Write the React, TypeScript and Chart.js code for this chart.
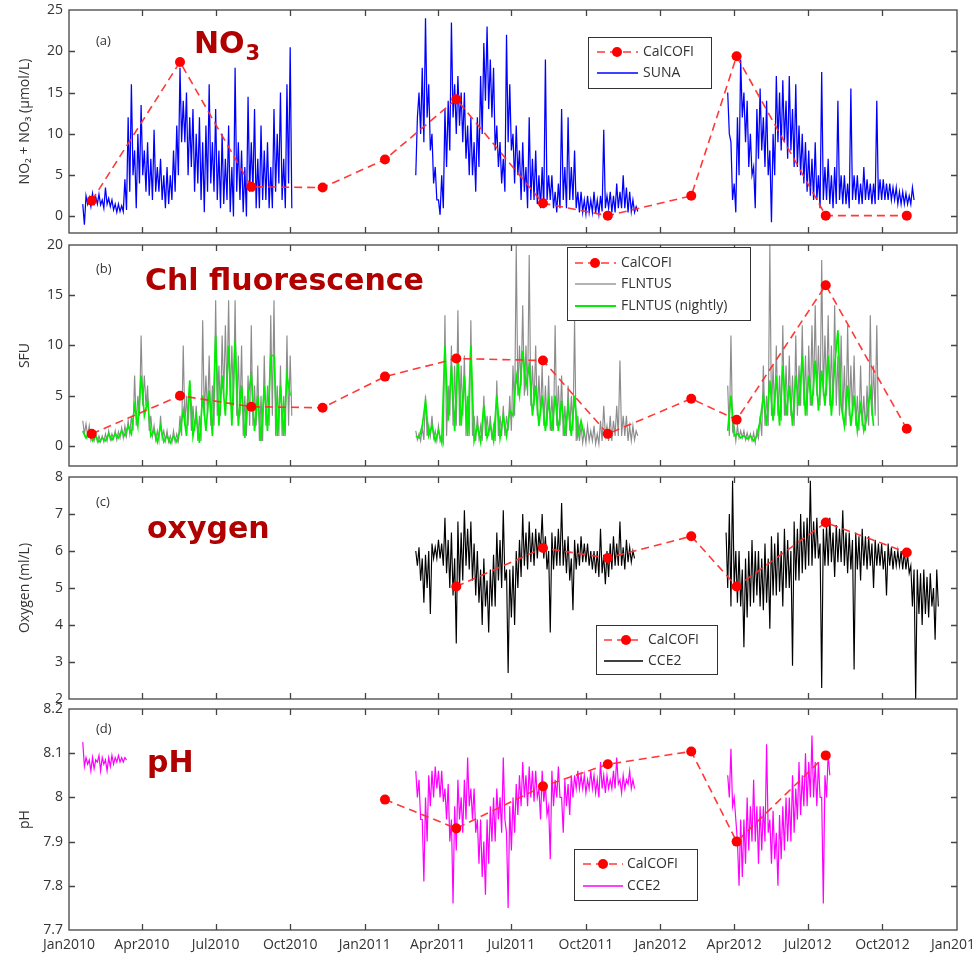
import React, { useEffect, useRef } from 'react';
import { Chart, registerables } from 'chart.js';
Chart.register(...registerables);

// ---------------- DATA ----------------
const DAY0 = Date.UTC(2010, 0, 1);
const dayOf = (iso: string) => (Date.parse(iso) - DAY0) / 86400000;
// dense sensor traces: alternating local max / local min read every 2 days
const DENSE_STEP_DAYS = 2;
// nightly fluorescence: one reading every 4 days
const NIGHTLY_STEP_DAYS = 4;

const X_TICK_DATES = ['2010-01-01', '2010-04-01', '2010-07-01', '2010-10-01', '2011-01-01', '2011-04-01', '2011-07-01', '2011-10-01', '2012-01-01', '2012-04-01', '2012-07-01', '2012-10-01', '2013-01-01'];
const X_TICK_LABELS = ['Jan2010', 'Apr2010', 'Jul2010', 'Oct2010', 'Jan2011', 'Apr2011', 'Jul2011', 'Oct2011', 'Jan2012', 'Apr2012', 'Jul2012', 'Oct2012', 'Jan2013'];

const CALCOFI_DATES = ['2010-01-29', '2010-05-18', '2010-08-14', '2010-11-10', '2011-01-26', '2011-04-24', '2011-08-09', '2011-10-28', '2012-02-08', '2012-04-04', '2012-07-23', '2012-10-31'];
const CALCOFI_NO3 = [1.9, 18.7, 3.6, 3.5, 6.9, 14.2, 1.6, 0.1, 2.5, 19.4, 0.1, 0.1];
const CALCOFI_CHL = [1.2, 5.0, 3.9, 3.8, 6.9, 8.7, 8.5, 1.2, 4.7, 2.6, 16.0, 1.7];
const CALCOFI_OXY_DATES = ['2011-04-24', '2011-08-09', '2011-10-28', '2012-02-08', '2012-04-04', '2012-07-23', '2012-10-31'];
const CALCOFI_OXY = [5.04, 6.08, 5.81, 6.4, 5.04, 6.77, 5.96];
const CALCOFI_PH_DATES = ['2011-01-26', '2011-04-24', '2011-08-09', '2011-10-28', '2012-02-08', '2012-04-04', '2012-07-23'];
const CALCOFI_PH = [7.995, 7.93, 8.025, 8.075, 8.104, 7.9, 8.095];

// SUNA nitrate
const SUNA_2010_START = '2010-01-18';
const SUNA_2010 = [1.5, -1, 2.5, 1.5, 2.3, 1.2, 2.8, 1.6, 2.4, 1.5, 2.7, 1.4, 2.0, 1.0, 3.5, 1.5, 2.2, 1.2, 2.0, 0.8, 1.5, 0.5, 1.5, 0.6, 1.3, 0.6, 4.5, 0.8, 12, 3, 16, 5, 8, 1, 10, 4, 13.5, 5, 8, 3, 9, 2.5, 7, 2, 10.5, 3, 6, 3, 7, 2, 5, 1, 6, 1.5, 5, 2, 8, 3, 11, 5, 18, 9, 14, 9, 15, 5, 12, 6, 13, 3, 10, 4, 12, 2, 9, 0.5, 11, 3, 16, 4, 9, 3, 13, 2, 8, 1, 10, 1.5, 7, 2, 11, 0.5, 6, 0, 18, 3, 9, 2, 8, 0.5, 6, 0, 14.5, 3, 9, 3, 13, 1, 7, 1, 11, 2, 8, 2, 9, 1, 6, 1, 13, 3, 10, 4, 15, 2, 7, 1, 16, 4, 20.5, 1];
const SUNA_2011_START = '2011-03-05';
const SUNA_2011 = [5, 12, 15, 10, 18, 9, 24, 12, 16, 8, 10, 4, 6, 2, 2, 0.2, 5, 1, 13, 6, 14, 8, 23.5, 12, 16, 10, 17, 11, 15, 9, 15, 7, 11, 5, 12, 5, 9, 3, 12, 6, 17, 10, 21, 14, 23, 13, 19, 12, 18, 8, 11, 6, 9, 4, 7, 3, 22, 9, 16, 8, 10, 4, 11, 5, 8, 2, 9, 3, 6, 1, 12, 2, 7, 2, 8, 1.5, 5, 1, 6, 1, 19, 2, 5, 2, 5, 1, 3, 0.5, 4, 1, 13, 2, 6, 1, 12, 2, 6, 2, 8, 1, 3, 0.5, 3, 0.5, 2, 0.3, 2.5, 0.5, 2, 0.5, 3, 0.4, 2, 0.3, 2.5, 0.6, 10.5, 1, 2.5, 1, 3, 0.5, 2.5, 0.5, 4, 1, 3, 1, 5, 1, 3.5, 0.5, 3, 0.6, 2, 0.5, 1.2, 0.6];
const SUNA_2012_START = '2012-03-24';
const SUNA_2012 = [15, 10, 9, 2, 4, 0.5, 12, 5, 19, 12, 15, 9, 14, 6, 10, 5, 6, 1, 13, 7, 15.5, 8, 12, 6, 14, 5, 8, -0.7, 10, 5, 17, 9, 15, 8, 16.5, 9, 14, 7, 17, 8, 13, 6, 16, 6, 11, 5, 10, 4, 9, 3, 8, 2.5, 7, 2, 9, 2, 5, 1, 17.5, 2, 6, 2, 7, 1.5, 5, 1, 6, 1.5, 14, 2, 5, 1.5, 5, 1.5, 4, 1, 15.5, 2, 5, 2, 5, 1.5, 4, 1.5, 6, 2, 4.5, 2, 4, 1.5, 4, 1.5, 14, 2, 4.5, 2, 4.5, 2, 4, 2, 4, 2, 3.5, 2, 3.5, 1.5, 3, 1.5, 3, 1.5, 2.8, 1.5, 2.5, 1.5, 3.5, 2];

// FLNTUS chlorophyll fluorescence (all readings)
const FLNTUS_2010_START = '2010-01-18';
const FLNTUS_2010 = [2.5, 1.2, 2.2, 1, 2, 0.6, 1.2, 0.5, 1.2, 0.4, 1, 0.4, 1, 0.4, 1.2, 0.5, 1.5, 0.6, 1.2, 0.7, 1.5, 0.6, 1.4, 0.8, 1.8, 0.8, 2, 1, 2.5, 1.2, 3, 1.5, 7, 2, 5, 3, 11, 4, 7, 4, 6, 1.5, 3, 1, 2, 0.6, 1.5, 0.5, 3, 0.8, 1.5, 0.5, 1.5, 0.4, 1, 0.3, 1.5, 0.4, 1.2, 0.5, 3, 1, 10, 2, 5, 2, 6.5, 1.5, 4, 1.5, 4, 0.5, 3, 0.5, 12.5, 3, 7, 3, 9, 2, 6, 2, 14.5, 3, 8, 3, 11, 5, 12, 5, 14.5, 4, 10, 4, 14.5, 3, 9, 3, 10, 1, 5, 1, 7, 2, 12, 2, 6, 2, 8, 0.5, 5, 0.5, 9, 2, 6, 2, 13, 3, 14.5, 1, 6, 1, 8, 1, 5, 1, 11, 2, 9, 3];
const FLNTUS_2011_START = '2011-03-05';
const FLNTUS_2011 = [1.5, 0.6, 1.2, 0.5, 1.8, 0.6, 5, 1, 2, 1, 3, 0.8, 1.5, 0.5, 2, 0.5, 1, 0.3, 13, 1, 6, 3, 10, 2, 8, 2, 13.5, 2, 8, 3, 9, 1, 5, 1, 12.5, 1, 3, 0.5, 3, 0.8, 2, 0.5, 5, 1, 3, 1, 3, 0.6, 2, 0.5, 6.5, 1, 3, 1, 4, 1, 3, 1.5, 5, 1.5, 8, 3, 20, 5, 10, 6, 14, 5, 10, 5, 19, 4, 8, 4, 10, 3, 7, 3, 8, 2, 6, 2, 7, 1.5, 5, 1.5, 12, 2, 6, 2, 7, 1, 4, 1, 6, 1.5, 5, 1.5, 12.5, 0.5, 3, 0.5, 2, 0.3, 1.5, 0.3, 2, 0.5, 1.5, 0.5, 2, 0.2, 1.2, 0.2, 2.5, 0.5, 4, 1, 2, 0.5, 3, 0.5, 2.5, 1, 4, 1, 8.5, 1, 3, 1, 3, 0.5, 2, 0.5, 2, 0.6, 1.5, 1];
const FLNTUS_2012_START = '2012-03-24';
const FLNTUS_2012 = [6, 1, 11, 1.5, 2, 0.5, 2, 0.8, 1.5, 0.8, 1.5, 0.6, 1.3, 0.6, 1.2, 0.5, 1.3, 0.3, 1.5, 0.8, 3, 1, 8, 2, 5, 2, 20, 3, 8, 3, 10, 3, 7, 2.5, 12, 3, 8, 3, 9, 3, 7, 2, 11, 3, 8, 4, 12, 4, 9, 3, 10, 4, 12, 5, 14, 5, 10, 4, 18.5, 5, 11, 5, 13, 4, 10, 4, 14, 4, 9, 3, 11, 3, 8, 2, 12, 3, 8, 3, 9, 2, 5, 1.5, 8, 2, 5, 1.5, 6, 2, 13, 3, 8, 3, 12, 2];

// FLNTUS nightly
const NIGHTLY_2010 = [1.5, 0.8, 1.5, 0.5, 1, 0.4, 0.8, 0.5, 1.2, 0.6, 1.2, 0.8, 1.5, 1, 2, 1.2, 4, 2, 7, 3, 4.5, 1, 1.5, 0.4, 2, 0.4, 1, 0.3, 1, 0.4, 1.5, 3.5, 1, 6.5, 1, 3, 0.3, 5, 1.5, 5.5, 1, 11, 2, 7, 3, 10, 2, 10.5, 2, 6, 0.8, 5, 7, 1.5, 5, 0.5, 6, 1.5, 9, 9, 1, 6, 1, 7, 5];
const NIGHTLY_2011 = [1, 0.8, 2, 4.5, 1, 2, 0.5, 1.5, 0.3, 10, 2.5, 8, 1.5, 9, 2, 7, 1, 10, 0.5, 2, 0.4, 4, 0.8, 2, 0.5, 5, 0.8, 3, 1, 3.5, 3, 7, 5, 9.5, 6, 8, 3, 6, 2, 5, 1.5, 4.5, 1.5, 5, 1.5, 4.5, 1, 4, 1, 5, 1, 2.5, 1];
const NIGHTLY_2012 = [1.5, 5, 1, 1.2, 0.8, 1, 0.7, 1, 0.5, 1, 2.5, 5, 2, 6.5, 2.5, 7, 2, 8, 3, 6, 2, 7, 4, 9, 3, 7, 4, 8.5, 3.5, 7.5, 4, 9, 3, 8, 11.5, 4, 2, 6, 2, 5, 1.5, 4, 1.5, 3, 5.5, 2];

// CCE2 oxygen
const OXY_2011_START = '2011-03-05';
const OXY_2011 = [6.0, 5.6, 6.1, 5.2, 5.8, 4.6, 5.9, 5.0, 6.0, 4.3, 6.2, 5.8, 6.1, 5.8, 6.3, 5.8, 6.2, 5.6, 6.9, 5.4, 6.3, 5.0, 6.5, 4.8, 5.8, 3.5, 6.8, 5.0, 6.5, 5.2, 7.1, 5.6, 6.6, 5.5, 6.8, 5.2, 6.2, 4.8, 6.0, 4.6, 5.5, 4.0, 5.8, 4.5, 5.2, 3.8, 5.5, 4.5, 5.9, 4.5, 6.5, 5.2, 6.3, 5.0, 7.1, 5.2, 5.5, 2.7, 5.5, 4.2, 5.6, 4.0, 6.0, 5.0, 6.3, 5.3, 7.0, 5.6, 6.5, 5.5, 6.8, 5.7, 6.5, 5.6, 6.6, 5.8, 6.5, 6.0, 7.0, 5.8, 6.4, 5.5, 6.0, 3.8, 6.5, 5.5, 6.4, 5.6, 6.6, 5.6, 7.3, 5.6, 6.3, 5.4, 6.4, 5.2, 5.8, 4.4, 6.3, 5.5, 6.2, 5.6, 6.4, 5.7, 6.2, 5.7, 6.2, 5.6, 6.0, 5.5, 6.0, 5.4, 6.0, 5.3, 6.6, 5.4, 5.9, 5.1, 6.0, 5.3, 6.2, 5.5, 6.4, 5.6, 6.2, 5.6, 6.8, 5.6, 6.1, 5.5, 6.3, 5.7, 6.1, 5.7, 6.0, 5.8];
const OXY_2012_START = '2012-03-22';
const OXY_2012 = [6.5, 5.0, 7.0, 4.5, 7.9, 5.0, 6.0, 4.6, 6.0, 4.5, 5.5, 3.4, 5.8, 4.2, 6.0, 4.5, 6.3, 4.6, 6.0, 4.8, 6.0, 4.5, 5.8, 4.4, 6.2, 4.6, 5.8, 3.9, 6.4, 4.8, 6.2, 4.8, 6.5, 4.9, 6.0, 4.5, 6.6, 5.0, 6.3, 5.0, 6.0, 2.9, 6.8, 5.2, 6.6, 5.2, 7.0, 5.4, 6.8, 5.5, 6.9, 5.6, 7.9, 5.6, 6.8, 5.8, 6.9, 5.8, 6.2, 2.3, 6.6, 5.6, 6.7, 5.6, 6.9, 5.7, 6.5, 5.3, 6.7, 5.7, 6.6, 5.7, 7.1, 5.6, 6.5, 5.4, 6.5, 5.5, 6.3, 2.8, 6.5, 5.5, 6.4, 5.2, 6.6, 5.6, 6.4, 5.5, 6.4, 5.6, 6.2, 5.0, 6.3, 5.6, 6.2, 5.6, 6.2, 5.5, 6.0, 4.8, 6.2, 5.6, 6.1, 5.5, 6.0, 5.6, 6.0, 5.6, 6.0, 5.5, 6.0, 5.5, 5.9, 5.4, 5.6, 4.5, 5.5, 2.0, 5.5, 4.3, 5.4, 4.0, 5.5, 4.3, 5.3, 4.2, 5.4, 4.5, 5.0, 3.6, 5.5, 4.5];

// CCE2 pH
const PH_2010_START = '2010-01-18';
const PH_2010 = [8.125, 8.07, 8.09, 8.075, 8.085, 8.06, 8.09, 8.065, 8.085, 8.08, 8.095, 8.06, 8.09, 8.075, 8.085, 8.06, 8.09, 8.07, 8.095, 8.075, 8.09, 8.08, 8.095, 8.08, 8.09, 8.08, 8.09, 8.085];
const PH_2011_START = '2011-03-05';
const PH_2011 = [8.06, 8.0, 8.04, 7.95, 7.95, 7.81, 8.0, 7.9, 8.05, 7.98, 8.06, 8.0, 8.07, 8.02, 8.06, 8.0, 8.06, 7.99, 8.02, 7.95, 8.03, 7.9, 7.95, 7.76, 7.98, 7.88, 8.04, 7.95, 8.0, 7.92, 8.04, 7.95, 8.09, 7.98, 8.02, 7.95, 8.02, 7.92, 7.95, 7.85, 7.95, 7.82, 7.9, 7.78, 7.95, 7.85, 7.98, 7.9, 8.0, 7.9, 8.02, 7.95, 8.0, 7.92, 8.09, 7.95, 7.92, 7.75, 7.98, 7.88, 8.0, 7.92, 8.03, 7.96, 8.05, 7.98, 8.08, 8.0, 8.05, 7.98, 8.07, 8.0, 8.06, 7.99, 8.06, 8.0, 8.02, 7.95, 8.06, 7.99, 8.03, 7.96, 7.98, 7.86, 8.06, 7.98, 8.04, 8.0, 8.07, 8.0, 8.0, 7.92, 8.04, 7.98, 8.03, 7.96, 8.05, 8.0, 8.05, 8.02, 8.06, 8.02, 8.05, 8.02, 8.05, 8.01, 8.04, 8.02, 8.06, 8.02, 8.05, 8.01, 8.04, 8.0, 8.08, 8.02, 8.05, 8.01, 8.05, 8.02, 8.04, 8.02, 8.06, 8.02, 8.09, 8.03, 8.04, 8.01, 8.05, 8.02, 8.04, 8.03, 8.06, 8.02, 8.04, 8.02];
const PH_2012_START = '2012-03-24';
const PH_2012 = [8.05, 8.0, 8.11, 7.98, 8.0, 7.95, 7.9, 7.8, 7.95, 7.82, 7.95, 7.85, 8.0, 7.88, 7.98, 7.9, 8.04, 7.9, 7.98, 7.85, 7.98, 7.88, 7.98, 7.9, 8.12, 7.92, 7.95, 7.85, 7.97, 7.86, 7.92, 7.8, 7.96, 7.86, 7.98, 7.88, 8.0, 7.9, 8.0, 7.9, 8.05, 7.92, 8.02, 7.95, 8.08, 7.96, 8.05, 7.98, 8.1, 7.98, 8.08, 8.0, 8.14, 8.0, 8.08, 7.98, 8.08, 8.0, 8.0, 7.76, 8.05, 8.0, 8.1, 8.05];

const Y_TICKS_NO3 = [0, 5, 10, 15, 20, 25];
const Y_TICKS_CHL = [0, 5, 10, 15, 20];
const Y_TICKS_OXY = [2, 3, 4, 5, 6, 7, 8];
const Y_TICKS_PH = [7.7, 7.8, 7.9, 8, 8.1, 8.2];

// ---------------- helpers ----------------
type Pt = { x: number; y: number | null };
function series(parts: [string, number[]][], step: number): Pt[] {
  const out: Pt[] = [];
  parts.forEach(([start, vals], pi) => {
    const d0 = dayOf(start);
    if (pi > 0) out.push({ x: d0 - 1, y: null });
    vals.forEach((v, i) => out.push({ x: d0 + i * step, y: v }));
  });
  return out;
}
const points = (dates: string[], vals: number[]): Pt[] => dates.map((d, i) => ({ x: dayOf(d), y: vals[i] }));

const RED_LINE = 'rgba(255,45,45,0.95)';
const RED_DOT = '#ff0000';
const calcofiDs = (data: Pt[]) => ({
  label: 'CalCOFI', data, order: 0, borderColor: RED_LINE, borderWidth: 1.6, borderDash: [8, 5],
  pointRadius: 5, pointBackgroundColor: RED_DOT, pointBorderWidth: 0, pointHoverRadius: 5, tension: 0,
});
const lineDs = (label: string, data: Pt[], color: string, order: number, width = 1) => ({
  label, data, order, borderColor: color, borderWidth: width, pointRadius: 0, tension: 0, spanGaps: false,
});

type LegendRow = { label: string; color: string; marker?: boolean; width?: number };
type PanelCfg = {
  top: number; bottom: number; yMin: number; yMax: number; yTicks: number[]; yTitle: string;
  datasets: any[]; showX: boolean; letter: string; letterY: number;
  title: { text: string; sub?: string; x: number; y: number };
  legend: { x: number; y: number; w: number; h: number; lineX0: number; lineX1: number; markX: number; textX: number; rowY: number[]; rows: LegendRow[] };
};

const FONT = '"Open Sans", "DejaVu Sans", sans-serif';
const TEXT = '#333333';
const X_MAX = dayOf('2013-01-01');
const D = DENSE_STEP_DAYS;
const N = NIGHTLY_STEP_DAYS;

const PANELS: PanelCfg[] = [
  {
    top: 10, bottom: 233, yMin: -2, yMax: 25, yTicks: Y_TICKS_NO3, yTitle: 'NO₂ + NO₃ (µmol/L)', showX: false,
    letter: '(a)', letterY: 41, title: { text: 'NO', sub: '3', x: 194, y: 53 },
    datasets: [
      calcofiDs(points(CALCOFI_DATES, CALCOFI_NO3)),
      lineDs('SUNA', series([[SUNA_2010_START, SUNA_2010], [SUNA_2011_START, SUNA_2011], [SUNA_2012_START, SUNA_2012]], D), '#0000ff', 1, 1.25),
    ],
    legend: { x: 588, y: 37, w: 123, h: 51, lineX0: 597, lineX1: 638, markX: 617, textX: 643, rowY: [52, 73],
      rows: [{ label: 'CalCOFI', color: RED_LINE, marker: true }, { label: 'SUNA', color: '#0000ff' }] },
  },
  {
    top: 245, bottom: 466, yMin: -2, yMax: 20, yTicks: Y_TICKS_CHL, yTitle: 'SFU', showX: false,
    letter: '(b)', letterY: 269, title: { text: 'Chl fluorescence', x: 145, y: 290 },
    datasets: [
      calcofiDs(points(CALCOFI_DATES, CALCOFI_CHL)),
      lineDs('FLNTUS', series([[FLNTUS_2010_START, FLNTUS_2010], [FLNTUS_2011_START, FLNTUS_2011], [FLNTUS_2012_START, FLNTUS_2012]], D), '#8c8c8c', 2, 1.15),
      lineDs('FLNTUS (nightly)', series([[FLNTUS_2010_START, NIGHTLY_2010], [FLNTUS_2011_START, NIGHTLY_2011], [FLNTUS_2012_START, NIGHTLY_2012]], N), '#00ee00', 1, 1.7),
    ],
    legend: { x: 567, y: 247, w: 183, h: 73, lineX0: 575, lineX1: 616, markX: 595, textX: 621, rowY: [263, 284, 306],
      rows: [{ label: 'CalCOFI', color: RED_LINE, marker: true }, { label: 'FLNTUS', color: '#9a9a9a' }, { label: 'FLNTUS (nightly)', color: '#00ee00', width: 2 }] },
  },
  {
    top: 477, bottom: 699, yMin: 2, yMax: 8, yTicks: Y_TICKS_OXY, yTitle: 'Oxygen (ml/L)', showX: false,
    letter: '(c)', letterY: 502, title: { text: 'oxygen', x: 147, y: 538 },
    datasets: [
      calcofiDs(points(CALCOFI_OXY_DATES, CALCOFI_OXY)),
      lineDs('CCE2', series([[OXY_2011_START, OXY_2011], [OXY_2012_START, OXY_2012]], D), '#000000', 1, 1.15),
    ],
    legend: { x: 596, y: 625, w: 121, h: 49, lineX0: 604, lineX1: 643, markX: 626, textX: 648, rowY: [640, 661],
      rows: [{ label: 'CalCOFI', color: RED_LINE, marker: true }, { label: 'CCE2', color: '#000000' }] },
  },
  {
    top: 709, bottom: 930, yMin: 7.7, yMax: 8.2, yTicks: Y_TICKS_PH, yTitle: 'pH', showX: true,
    letter: '(d)', letterY: 729, title: { text: 'pH', x: 147, y: 772 },
    datasets: [
      calcofiDs(points(CALCOFI_PH_DATES, CALCOFI_PH)),
      lineDs('CCE2', series([[PH_2010_START, PH_2010], [PH_2011_START, PH_2011], [PH_2012_START, PH_2012]], D), '#ff00ff', 1, 1.2),
    ],
    legend: { x: 574, y: 849, w: 123, h: 51, lineX0: 583, lineX1: 623, markX: 603, textX: 627, rowY: [864, 886],
      rows: [{ label: 'CalCOFI', color: RED_LINE, marker: true }, { label: 'CCE2', color: '#ff00ff' }] },
  },
];

const PAD = 8;
const X_AXIS_H = 26;

function makeFramePlugin(cfg: PanelCfg, canvasTop: number) {
  return {
    id: 'frame',
    afterDraw(chart: any) {
      const { ctx, chartArea: a, scales } = chart;
      ctx.save();
      ctx.strokeStyle = '#444';
      ctx.lineWidth = 1.3;
      ctx.setLineDash([]);
      ctx.strokeRect(a.left, a.top, a.right - a.left, a.bottom - a.top);
      const TL = 6;
      ctx.beginPath();
      scales.x.ticks.forEach((t: any) => {
        const px = Math.round(scales.x.getPixelForValue(t.value)) + 0.5;
        if (px <= a.left + 2 || px >= a.right - 2) return;
        ctx.moveTo(px, a.bottom); ctx.lineTo(px, a.bottom - TL);
        ctx.moveTo(px, a.top); ctx.lineTo(px, a.top + TL);
      });
      scales.y.ticks.forEach((t: any) => {
        const py = Math.round(scales.y.getPixelForValue(t.value)) + 0.5;
        if (py <= a.top + 2 || py >= a.bottom - 2) return;
        ctx.moveTo(a.left, py); ctx.lineTo(a.left + TL, py);
        ctx.moveTo(a.right, py); ctx.lineTo(a.right - TL, py);
      });
      ctx.stroke();

      // panel letter
      ctx.fillStyle = TEXT;
      ctx.font = `13px ${FONT}`;
      ctx.textBaseline = 'middle';
      ctx.textAlign = 'left';
      ctx.fillText(cfg.letter, 96, cfg.letterY - canvasTop);

      // big title
      const T = cfg.title;
      ctx.fillStyle = '#b00000';
      ctx.textBaseline = 'alphabetic';
      ctx.font = 'bold 30px "DejaVu Sans", sans-serif';
      ctx.fillText(T.text, T.x, T.y - canvasTop);
      if (T.sub) {
        const w = ctx.measureText(T.text).width;
        ctx.font = 'bold 21px "DejaVu Sans", sans-serif';
        ctx.fillText(T.sub, T.x + w + 1, T.y - canvasTop + 7);
      }

      // legend
      const L = cfg.legend;
      const ly = L.y - canvasTop;
      ctx.fillStyle = '#ffffff';
      ctx.fillRect(L.x, ly, L.w, L.h);
      ctx.strokeStyle = '#333';
      ctx.lineWidth = 1;
      ctx.strokeRect(L.x + 0.5, ly + 0.5, L.w, L.h);
      L.rows.forEach((r, i) => {
        const y = L.rowY[i] - canvasTop;
        ctx.strokeStyle = r.color;
        ctx.lineWidth = r.width ?? (r.marker ? 1.6 : 1.3);
        ctx.setLineDash(r.marker ? [8, 5] : []);
        ctx.beginPath();
        ctx.moveTo(L.lineX0, y); ctx.lineTo(L.lineX1, y);
        ctx.stroke();
        ctx.setLineDash([]);
        if (r.marker) {
          ctx.fillStyle = RED_DOT;
          ctx.beginPath();
          ctx.arc(L.markX, y, 5, 0, Math.PI * 2);
          ctx.fill();
        }
        ctx.fillStyle = TEXT;
        ctx.font = `14px ${FONT}`;
        ctx.textBaseline = 'middle';
        ctx.fillText(r.label, L.textX, y);
      });
      ctx.restore();
    },
  };
}

function Panel({ cfg }: { cfg: PanelCfg }) {
  const ref = useRef<HTMLCanvasElement>(null);
  const canvasTop = cfg.top - PAD;
  const canvasH = cfg.showX ? 956 - canvasTop : cfg.bottom + PAD - canvasTop;
  useEffect(() => {
    const chart = new Chart(ref.current as HTMLCanvasElement, {
      type: 'line',
      data: { datasets: cfg.datasets as any },
      plugins: [makeFramePlugin(cfg, canvasTop)],
      options: {
        responsive: false,
        animation: false,
        devicePixelRatio: 1,
        layout: { autoPadding: false, padding: { left: 0, right: 18, top: PAD, bottom: cfg.showX ? 0 : PAD } },
        plugins: { legend: { display: false }, tooltip: { enabled: false } },
        scales: {
          x: {
            type: 'linear', min: 0, max: X_MAX,
            afterBuildTicks: (s: any) => { s.ticks = X_TICK_DATES.map((d) => ({ value: dayOf(d) })); },
            ticks: {
              display: cfg.showX, autoSkip: false, maxRotation: 0, minRotation: 0, padding: 7,
              color: TEXT, font: { family: FONT, size: 14 },
              callback: (_v: any, i: number) => X_TICK_LABELS[i],
            },
            grid: { display: false, drawTicks: false },
            border: { display: false },
            afterFit: (s: any) => { s.height = cfg.showX ? X_AXIS_H : 0; s.paddingLeft = 0; s.paddingRight = 0; },
          },
          y: {
            type: 'linear', min: cfg.yMin, max: cfg.yMax,
            afterBuildTicks: (s: any) => { s.ticks = cfg.yTicks.map((v) => ({ value: v })); },
            ticks: { padding: 6, color: TEXT, font: { family: FONT, size: 14 }, callback: (v: any) => String(v) },
            grid: { display: false, drawTicks: false },
            border: { display: false },
            title: { display: true, text: cfg.yTitle, color: TEXT, font: { family: FONT, size: 14 }, padding: { top: 17, bottom: 0 } },
            afterFit: (s: any) => { s.width = 69; s.paddingTop = 0; s.paddingBottom = 0; },
          },
        },
      } as any,
    });
    return () => chart.destroy();
  }, []);
  return (
    <canvas
      ref={ref}
      width={975}
      height={canvasH}
      style={{ position: 'absolute', left: 0, top: canvasTop, width: 975, height: canvasH }}
    />
  );
}

export default function App() {
  return (
    <div style={{ position: 'absolute', left: 0, top: 0, width: 975, height: 956, background: '#ffffff', overflow: 'hidden' }}>
      {PANELS.map((p, i) => (
        <Panel key={i} cfg={p} />
      ))}
    </div>
  );
}
